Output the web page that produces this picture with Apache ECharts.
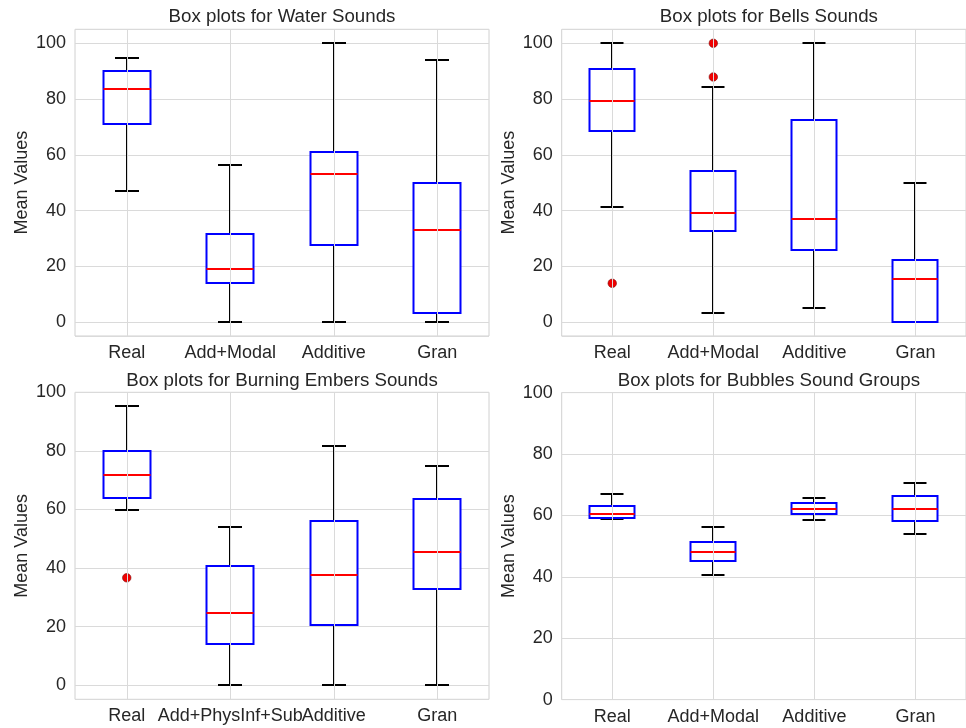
<!DOCTYPE html>
<html>
<head>
<meta charset="utf-8">
<script src="https://cdn.jsdelivr.net/npm/echarts@6/dist/echarts.min.js"></script>
<style>
  html, body { margin: 0; padding: 0; background: #ffffff; }
  #chart { width: 966px; height: 728px; }
</style>
</head>
<body>
<div id="chart"></div>
<script>
// Sound groups shown on the horizontal axes
const groupsStandard = ['Real', 'Add+Modal', 'Additive', 'Gran'];
const groupsEmbers = ['Real', 'Add+PhysInf+Sub', 'Additive', 'Gran'];

// Five-number summaries per group: [lower whisker, Q1, median, Q3, upper whisker]
const waterStats = [
  [46.9, 71.1, 83.6, 90.1, 94.7],
  [0, 14.0, 19.2, 31.5, 56.5],
  [0, 27.6, 53.1, 61.0, 100],
  [0, 3.2, 33.1, 50.0, 93.9]
];
const bellsStats = [
  [41.2, 68.5, 79.4, 90.7, 100],
  [3.3, 32.5, 39.0, 54.0, 84.4],
  [5.0, 26.0, 37.0, 72.5, 100],
  [0, 0, 15.5, 22.1, 50.0]
];
const embersStats = [
  [59.7, 63.8, 71.9, 79.9, 95.4],
  [0, 14.1, 24.6, 40.6, 53.9],
  [0, 20.6, 37.6, 56.2, 81.6],
  [0, 33.0, 45.6, 63.6, 75.0]
];
const bubblesStats = [
  [58.9, 59.2, 60.6, 63.2, 66.9],
  [40.6, 45.0, 48.0, 51.4, 56.3],
  [58.6, 60.4, 62.2, 64.1, 65.8],
  [54.0, 58.2, 62.2, 66.4, 70.7]
];

// Outlying points: [group, value]
const waterOutliers = [];
const bellsOutliers = [['Real', 13.9], ['Add+Modal', 100], ['Add+Modal', 87.9]];
const embersOutliers = [['Real', 36.7]];
const bubblesOutliers = [];

// Value axis labels
const yTicks = [0, 20, 40, 60, 80, 100];

const FONT = 'Liberation Sans, Arial, Helvetica, sans-serif';
const TEXT = '#262626';
const GRIDLINE = '#dadada';

const panels = [
  { title: 'Box plots for Water Sounds', groups: groupsStandard, stats: waterStats, outliers: waterOutliers,
    grid: { left: 75, right: 477, top: 29.3, bottom: 392 }, yMin: -5, yMax: 105, titleTop: 7 },
  { title: 'Box plots for Bells Sounds', groups: groupsStandard, stats: bellsStats, outliers: bellsOutliers,
    grid: { left: 561.7, right: -10, top: 29.3, bottom: 392 }, yMin: -5, yMax: 105, titleTop: 7 },
  { title: 'Box plots for Burning Embers Sounds', groups: groupsEmbers, stats: embersStats, outliers: embersOutliers,
    grid: { left: 75, right: 477, top: 392.3, bottom: 28.7 }, yMin: -4.77, yMax: 100, titleTop: 371 },
  { title: 'Box plots for Bubbles Sound Groups', groups: groupsStandard, stats: bubblesStats, outliers: bubblesOutliers,
    grid: { left: 561.7, right: -10, top: 392.6, bottom: 28.4 }, yMin: 0, yMax: 100, titleTop: 371 }
];

// Draws one box: black whiskers with caps, white box with blue edge, red median.
// Positions are snapped to whole pixels so the 2px strokes stay crisp.
function renderBox(params, api) {
  const x = api.value(0);
  const yOf = function (dim) { return Math.round(api.coord([x, api.value(dim)])[1]); };
  const low = yOf(1), q1 = yOf(2), med = yOf(3), q3 = yOf(4), high = yOf(5);
  const band = api.size([1, 0])[0];
  const bw = Math.round(band * 0.45);
  const cw = Math.round(bw / 2);
  const cx = Math.round(api.coord([x, 0])[0]);
  const black = { stroke: '#000000', lineWidth: 2 };
  return {
    type: 'group',
    children: [
      { type: 'line', shape: { x1: cx, y1: q3, x2: cx, y2: high }, style: black },
      { type: 'line', shape: { x1: cx, y1: q1, x2: cx, y2: low }, style: black },
      { type: 'line', shape: { x1: cx - cw / 2, y1: high, x2: cx + cw / 2, y2: high }, style: black },
      { type: 'line', shape: { x1: cx - cw / 2, y1: low, x2: cx + cw / 2, y2: low }, style: black },
      { type: 'rect', shape: { x: cx - bw / 2, y: q3, width: bw, height: q1 - q3 },
        style: { fill: '#ffffff', stroke: '#0000ff', lineWidth: 2 } },
      { type: 'line', shape: { x1: cx - bw / 2, y1: med, x2: cx + bw / 2, y2: med },
        style: { stroke: '#ff0000', lineWidth: 2 } }
    ]
  };
}

const option = {
  animation: false,
  backgroundColor: '#ffffff',
  title: [],
  grid: [],
  xAxis: [],
  yAxis: [],
  series: []
};

panels.forEach(function (p, i) {
  const g = p.grid;
  const centerX = g.left + (966 - g.right - g.left) / 2;
  option.title.push({
    text: p.title, left: centerX, top: p.titleTop, textAlign: 'center', padding: 0,
    textStyle: { fontFamily: FONT, fontSize: 18.7, fontWeight: 'normal', color: TEXT }
  });
  option.grid.push({
    left: g.left, right: g.right, top: g.top, bottom: g.bottom,
    show: true, borderColor: '#d0d0d0', borderWidth: 1, backgroundColor: '#ffffff'
  });
  option.xAxis.push({
    type: 'category', gridIndex: i, data: p.groups, boundaryGap: true,
    axisLine: { show: false }, axisTick: { show: false }, splitLine: { show: false },
    axisLabel: { fontFamily: FONT, fontSize: 18, color: TEXT, margin: 8, interval: 0 }
  });
  option.yAxis.push({
    type: 'value', gridIndex: i, min: p.yMin, max: p.yMax, splitNumber: 5,
    name: 'Mean Values', nameLocation: 'middle', nameGap: 44,
    nameTextStyle: { fontFamily: FONT, fontSize: 18, color: TEXT },
    axisLine: { show: false }, axisTick: { show: false },
    splitLine: { show: true, lineStyle: { color: GRIDLINE, width: 1 } },
    axisLabel: {
      fontFamily: FONT, fontSize: 18, color: TEXT, margin: 9,
      showMinLabel: true, showMaxLabel: true,
      formatter: function (v) { return yTicks.indexOf(v) >= 0 ? String(v) : ''; }
    }
  });
  // vertical grid lines through the group centres
  option.series.push({
    type: 'line', xAxisIndex: i, yAxisIndex: i, data: [], z: 1, silent: true,
    markLine: {
      silent: true, symbol: 'none', label: { show: false }, animation: false,
      lineStyle: { color: GRIDLINE, width: 1, type: 'solid' },
      data: p.groups.map(function (c) { return { xAxis: c }; })
    }
  });
  option.series.push({
    type: 'custom', xAxisIndex: i, yAxisIndex: i, z: 3,
    renderItem: renderBox,
    encode: { x: 0, y: [1, 2, 3, 4, 5] },
    data: p.stats.map(function (s, k) { return [k].concat(s); })
  });
  option.series.push({
    type: 'scatter', xAxisIndex: i, yAxisIndex: i, z: 4,
    symbol: 'circle', symbolSize: 8.5,
    itemStyle: { color: '#f00000', borderColor: '#7a1010', borderWidth: 0.6, opacity: 1 },
    data: p.outliers
  });
});

const chart = echarts.init(document.getElementById('chart'), null, { renderer: 'canvas' });
chart.setOption(option);
</script>
</body>
</html>
